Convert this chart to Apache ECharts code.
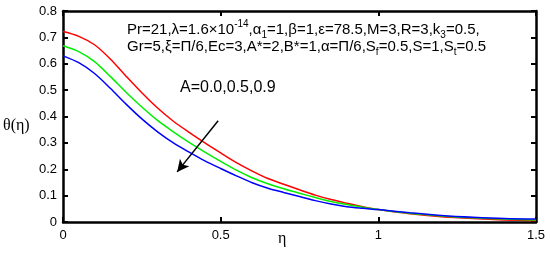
<!DOCTYPE html>
<html>
<head>
<meta charset="utf-8">
<script src="https://cdn.jsdelivr.net/npm/echarts@6/dist/echarts.min.js"></script>
<style>
  html, body { margin: 0; padding: 0; background: #fff; }
  #chart { width: 550px; height: 257px; }
</style>
</head>
<body>
<div id="chart"></div>
<script>
var eta = [0, 0.05, 0.1, 0.15, 0.2, 0.25, 0.3, 0.35, 0.4, 0.45, 0.5, 0.55, 0.6, 0.65, 0.7, 0.75, 0.8, 0.85, 0.9, 0.95, 1.0, 1.1, 1.2, 1.3, 1.4, 1.5];
var thetaA00 = [0.722, 0.704, 0.672, 0.618, 0.553, 0.49, 0.432, 0.382, 0.34, 0.30, 0.262, 0.225, 0.193, 0.165, 0.143, 0.122, 0.102, 0.085, 0.071, 0.058, 0.047, 0.031, 0.02, 0.013, 0.008, 0.005];
var thetaA05 = [0.668, 0.646, 0.608, 0.552, 0.492, 0.436, 0.385, 0.342, 0.302, 0.265, 0.23, 0.197, 0.168, 0.145, 0.126, 0.109, 0.093, 0.078, 0.066, 0.056, 0.047, 0.033, 0.023, 0.016, 0.011, 0.008];
var thetaA09 = [0.63, 0.604, 0.563, 0.507, 0.447, 0.391, 0.342, 0.30, 0.265, 0.232, 0.203, 0.175, 0.149, 0.128, 0.112, 0.097, 0.081, 0.068, 0.058, 0.052, 0.047, 0.035, 0.025, 0.018, 0.013, 0.011];
var xLabels = ['0', '0.5', '1', '1.5'];

function pairs(v) { return eta.map(function (x, i) { return [x, v[i]]; }); }
function line() { return { show: true, onZero: false, lineStyle: { color: '#000', width: 2.5 } }; }
function tick() { return { show: true, inside: true, length: 5, lineStyle: { color: '#000', width: 2 } }; }

var chart = echarts.init(document.getElementById('chart'));
chart.setOption({
  animation: false,
  grid: { left: 63, right: 14, top: 11, bottom: 35 },
  xAxis: [
    {
      type: 'value', min: 0, max: 1.5, interval: 0.5,
      axisLine: line(), axisTick: tick(), splitLine: { show: false },
      axisLabel: {
        color: '#000', fontSize: 13, fontFamily: 'Arial', margin: 7,
        formatter: function (v) { return xLabels[Math.round(v / 0.5)]; }
      }
    },
    {
      type: 'value', position: 'top', min: 0, max: 1.5, interval: 0.5,
      axisLine: line(), axisTick: tick(), splitLine: { show: false }, axisLabel: { show: false }
    }
  ],
  yAxis: [
    {
      type: 'value', min: 0, max: 0.8, interval: 0.1,
      axisLine: line(), axisTick: tick(), splitLine: { show: false },
      axisLabel: {
        color: '#000', fontSize: 13, fontFamily: 'Arial', margin: 6,
        formatter: function (v) { return v === 0 ? '0' : v.toFixed(1); }
      }
    },
    {
      type: 'value', position: 'right', min: 0, max: 0.8, interval: 0.1,
      axisLine: line(), axisTick: tick(), splitLine: { show: false }, axisLabel: { show: false }
    }
  ],
  series: [
    {
      type: 'line', data: pairs(thetaA00), smooth: 0.3, showSymbol: false,
      lineStyle: { color: '#ff0000', width: 1.5 }
    },
    {
      type: 'line', data: pairs(thetaA05), smooth: 0.3, showSymbol: false,
      lineStyle: { color: '#00ee00', width: 1.5 }
    },
    {
      type: 'line', data: pairs(thetaA09), smooth: 0.3, showSymbol: false,
      lineStyle: { color: '#0000ff', width: 1.5 },
      markLine: {
        silent: true, symbol: ['none', 'arrow'], symbolSize: [9, 12],
        label: { show: false },
        lineStyle: { color: '#000', width: 1.5, type: 'solid' },
        data: [[{ coord: [0.492, 0.384] }, { coord: [0.362, 0.19] }]]
      }
    }
  ],
  graphic: [
    {
      type: 'text', left: 127, top: 19,
      style: {
        text: 'Pr=21,λ=1.6×10{sup|-14},α{sub|1}=1,β=1,ε=78.5,M=3,R=3,k{sub|3}=0.5,',
        font: '15px Arial', fill: '#000',
        rich: {
          sup: { fontSize: 10, verticalAlign: 'top', padding: [0, 0, 8, 0] },
          sub: { fontSize: 10, padding: [11, 0, 0, 0] }
        }
      }
    },
    {
      type: 'text', left: 127, top: 39,
      style: {
        text: 'Gr=5,ξ=Π/6,Ec=3,A*=2,B*=1,α=Π/6,S{sub|f}=0.5,S=1,S{sub|t}=0.5',
        font: '15px Arial', fill: '#000',
        rich: { sub: { fontSize: 10, padding: [11, 0, 0, 0] } }
      }
    },
    {
      type: 'text', left: 180, top: 80,
      style: { text: 'A=0.0,0.5,0.9', font: '16px Arial', fill: '#000' }
    },
    {
      type: 'text', left: 3, top: 118,
      style: { text: 'θ(η)', font: '16px serif', fill: '#000' }
    },
    {
      type: 'text', left: 278, top: 231,
      style: { text: 'η', font: '16px serif', fill: '#000' }
    }
  ]
});
</script>
</body>
</html>
